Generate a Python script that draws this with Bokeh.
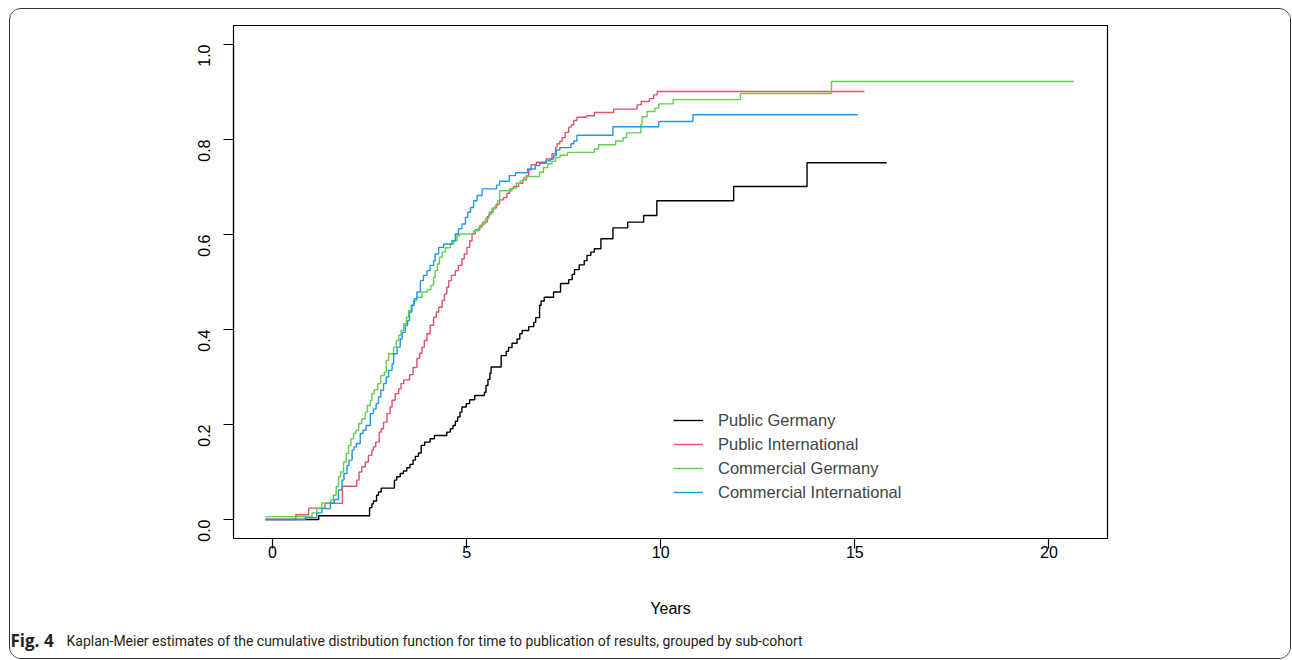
import math
from bokeh.plotting import figure
from bokeh.layouts import column
from bokeh.models import (Range1d, FixedTicker, Label, Legend, LegendItem,
                          PrintfTickFormatter)
from bokeh.embed import file_html
from bokeh.resources import INLINE

# ---------------- data ----------------
series_names = ["Public Germany", "Public International",
                "Commercial Germany", "Commercial International"]
series_colors = ["#000000", "#DF536B", "#61D04F", "#2297E6"]

x_ticks = [0, 5, 10, 15, 20]
y_ticks = [0.0, 0.2, 0.4, 0.6, 0.8, 1.0]

pg_time = [-0.18, 1.19, 2.50, 2.56, 2.60, 2.68, 2.73, 2.80, 3.14, 3.20, 3.29,
           3.37, 3.46, 3.54, 3.62, 3.68, 3.76, 3.83, 3.92, 4.06, 4.17, 4.49,
           4.58, 4.65, 4.71, 4.77, 4.83, 4.88, 4.99, 5.08, 5.21, 5.46, 5.50,
           5.55, 5.60, 5.63, 5.89, 6.02, 6.08, 6.17, 6.30, 6.37, 6.43, 6.60,
           6.73, 6.78, 6.88, 6.92, 7.00, 7.24, 7.42, 7.63, 7.72, 7.78, 7.90,
           8.03, 8.10, 8.20, 8.29, 8.46, 8.77, 9.15, 9.56, 9.90, 11.88, 13.77]
pg_prob = [0.000, 0.008, 0.025, 0.033, 0.039, 0.051, 0.058, 0.066, 0.083, 0.090,
           0.097, 0.102, 0.109, 0.116, 0.125, 0.133, 0.140, 0.156, 0.163, 0.170,
           0.177, 0.184, 0.191, 0.198, 0.207, 0.216, 0.226, 0.237, 0.244, 0.252,
           0.261, 0.268, 0.282, 0.295, 0.308, 0.321, 0.345, 0.354, 0.362, 0.371,
           0.380, 0.391, 0.398, 0.406, 0.415, 0.425, 0.451, 0.460, 0.468, 0.479,
           0.497, 0.505, 0.516, 0.526, 0.536, 0.545, 0.556, 0.563, 0.570, 0.591,
           0.614, 0.626, 0.640, 0.671, 0.701, 0.751]
pg_end = 15.82

pi_time = [-0.18, 0.60, 0.93, 1.35, 1.80, 2.17, 2.23, 2.30, 2.39, 2.47, 2.56,
           2.60, 2.66, 2.75, 2.80, 2.86, 2.95, 3.03, 3.08, 3.16, 3.25, 3.31,
           3.38, 3.53, 3.62, 3.72, 3.79, 3.85, 3.91, 3.98, 4.06, 4.15, 4.22,
           4.28, 4.37, 4.43, 4.49, 4.54, 4.61, 4.71, 4.79, 4.88, 4.94, 5.01,
           5.08, 5.14, 5.22, 5.34, 5.42, 5.53, 5.59, 5.68, 5.77, 5.85, 5.95,
           6.04, 6.11, 6.21, 6.34, 6.45, 6.54, 6.60, 6.66, 6.80, 7.05, 7.20,
           7.29, 7.33, 7.40, 7.46, 7.54, 7.63, 7.70, 7.76, 7.84, 8.09, 8.29,
           8.79, 9.39, 9.50, 9.71, 9.82, 9.91]
pi_prob = [0.000, 0.010, 0.024, 0.034, 0.070, 0.083, 0.100, 0.111, 0.121, 0.135,
           0.146, 0.153, 0.163, 0.184, 0.191, 0.205, 0.223, 0.237, 0.251, 0.265,
           0.275, 0.286, 0.294, 0.305, 0.320, 0.339, 0.350, 0.363, 0.377, 0.391,
           0.409, 0.426, 0.437, 0.447, 0.461, 0.475, 0.489, 0.503, 0.514, 0.524,
           0.535, 0.549, 0.559, 0.573, 0.587, 0.601, 0.610, 0.619, 0.626, 0.638,
           0.647, 0.656, 0.664, 0.673, 0.678, 0.687, 0.696, 0.701, 0.708, 0.715,
           0.724, 0.736, 0.747, 0.752, 0.759, 0.770, 0.783, 0.791, 0.796, 0.804,
           0.815, 0.826, 0.831, 0.840, 0.847, 0.850, 0.857, 0.864, 0.873, 0.880,
           0.886, 0.894, 0.901]
pi_end = 15.25

cg_time = [-0.18, 1.02, 1.14, 1.27, 1.50, 1.57, 1.64, 1.70, 1.75, 1.83, 1.90,
           1.96, 2.02, 2.09, 2.15, 2.22, 2.30, 2.39, 2.44, 2.52, 2.56, 2.62,
           2.71, 2.79, 2.88, 2.93, 2.99, 3.12, 3.19, 3.25, 3.31, 3.38, 3.45,
           3.51, 3.57, 3.63, 3.72, 3.85, 3.99, 4.08, 4.15, 4.19, 4.25, 4.30,
           4.37, 4.45, 4.58, 4.67, 4.75, 4.82, 5.18, 5.31, 5.40, 5.48, 5.57,
           5.65, 5.74, 5.80, 5.85, 6.17, 6.28, 6.38, 6.47, 6.56, 6.88, 6.98,
           7.09, 7.20, 7.29, 7.41, 7.60, 8.29, 8.40, 8.84, 9.03, 9.12, 9.49,
           9.52, 9.65, 9.85, 9.95, 10.32, 12.05, 14.40]
cg_prob = [0.006, 0.014, 0.023, 0.035, 0.041, 0.051, 0.069, 0.090, 0.100, 0.121,
           0.139, 0.156, 0.170, 0.181, 0.188, 0.202, 0.212, 0.226, 0.240, 0.251,
           0.265, 0.273, 0.286, 0.303, 0.310, 0.335, 0.349, 0.363, 0.377, 0.388,
           0.398, 0.412, 0.426, 0.440, 0.451, 0.461, 0.468, 0.479, 0.484, 0.493,
           0.510, 0.524, 0.538, 0.552, 0.563, 0.572, 0.580, 0.587, 0.598, 0.601,
           0.608, 0.615, 0.622, 0.633, 0.643, 0.654, 0.661, 0.671, 0.692, 0.698,
           0.708, 0.713, 0.720, 0.722, 0.731, 0.741, 0.749, 0.754, 0.762, 0.767,
           0.773, 0.780, 0.789, 0.797, 0.804, 0.814, 0.831, 0.848, 0.859, 0.866,
           0.875, 0.884, 0.897, 0.922]
cg_end = 20.64

ci_time = [-0.18, 0.84, 1.14, 1.27, 1.49, 1.59, 1.70, 1.79, 1.84, 1.92, 1.97,
           2.05, 2.10, 2.16, 2.26, 2.33, 2.41, 2.52, 2.60, 2.67, 2.73, 2.79,
           2.86, 2.93, 2.99, 3.08, 3.12, 3.21, 3.29, 3.34, 3.42, 3.48, 3.53,
           3.59, 3.65, 3.72, 3.81, 3.89, 3.98, 4.06, 4.15, 4.19, 4.28, 4.41,
           4.62, 4.71, 4.79, 4.88, 4.97, 5.03, 5.10, 5.18, 5.27, 5.40, 5.77,
           5.85, 6.10, 6.26, 6.57, 6.77, 6.88, 7.05, 7.16, 7.24, 7.31, 7.40,
           7.69, 7.76, 7.84, 8.77, 9.95, 10.83]
ci_prob = [0.000, 0.004, 0.014, 0.023, 0.035, 0.042, 0.062, 0.083, 0.097, 0.114,
           0.125, 0.146, 0.153, 0.160, 0.181, 0.188, 0.198, 0.223, 0.233, 0.244,
           0.258, 0.272, 0.286, 0.300, 0.314, 0.328, 0.349, 0.363, 0.380, 0.394,
           0.409, 0.419, 0.437, 0.451, 0.465, 0.479, 0.503, 0.514, 0.524, 0.535,
           0.545, 0.559, 0.573, 0.580, 0.587, 0.601, 0.612, 0.622, 0.636, 0.647,
           0.657, 0.671, 0.682, 0.696, 0.704, 0.712, 0.724, 0.730, 0.738, 0.745,
           0.750, 0.755, 0.759, 0.766, 0.778, 0.783, 0.791, 0.797, 0.809, 0.827,
           0.838, 0.852]
ci_end = 15.08

series = [(pg_time, pg_prob, pg_end), (pi_time, pi_prob, pi_end),
          (cg_time, cg_prob, cg_end), (ci_time, ci_prob, ci_end)]

x_label = "Years"
caption_bold = "Fig. 4"
caption_text = ("Kaplan-Meier estimates of the cumulative distribution function "
                "for time to publication of results, grouped by sub-cohort")

# ---------------- layout geometry (page pixels) ----------------
BOX_X, BOX_Y, BORDER = 9, 8, 1          # outer rounded panel
CX, CY = BOX_X + BORDER, BOX_Y + BORDER  # content origin
W = 1290 - CX                            # content width
FL, FT, FR, FB = 233, 25, 1107, 538      # plot frame on the page
MAIN_BOTTOM = 622                        # page y where the caption strip starts
CAP_H = 36

R_FONT = "Liberation Sans"
p = figure(width=W, height=MAIN_BOTTOM - CY, output_backend="svg",
           toolbar_location=None,
           x_range=Range1d(-1.005, 21.51), y_range=Range1d(-0.04, 1.04),
           min_border_left=FL - CX, min_border_right=W - (FR - CX),
           min_border_top=FT - CY, min_border_bottom=MAIN_BOTTOM - FB)
p.xgrid.visible = False
p.ygrid.visible = False
p.outline_line_color = "black"
p.outline_line_width = 1.2
p.outline_line_alpha = 1.0
p.background_fill_color = "white"
p.border_fill_color = "white"

for ax, ticks in ((p.xaxis, x_ticks), (p.yaxis, y_ticks)):
    ax.ticker = FixedTicker(ticks=ticks)
    ax.bounds = (ticks[0], ticks[-1])
    ax.major_tick_out = 10
    ax.major_tick_in = 0
    ax.minor_tick_line_color = None
    ax.axis_line_width = 1.2
    ax.major_tick_line_width = 1.2
    ax.major_label_text_font = R_FONT
    ax.major_label_text_font_size = "16px"
    ax.major_label_text_color = "black"

p.xaxis.major_label_standoff = -3
p.yaxis.formatter = PrintfTickFormatter(format="%.1f")
p.yaxis.major_label_orientation = math.pi / 2
p.yaxis.major_label_standoff = 20
p.xaxis.axis_label = x_label
p.xaxis.axis_label_text_font = R_FONT
p.xaxis.axis_label_text_font_size = "16px"
p.xaxis.axis_label_text_font_style = "normal"
p.xaxis.axis_label_text_color = "black"
p.xaxis.axis_label_standoff = 39

items = []
for (t, pr, end), name, col in zip(series, series_names, series_colors):
    xs = list(t) + [end]
    ys = list(pr) + [pr[-1]]
    r = p.step(xs, ys, mode="after", line_color=col, line_width=1.4)
    items.append(LegendItem(label=name, renderers=[r]))

legend = Legend(items=items, location=(440, 36), orientation="vertical",
                glyph_width=30, glyph_height=20, label_height=20,
                label_standoff=15, spacing=4, padding=0, margin=0,
                border_line_color=None, background_fill_alpha=0,
                label_text_font=R_FONT, label_text_font_size="16.5px")
p.add_layout(legend)

# ---------------- caption strip ----------------
cap = figure(width=W, height=CAP_H, output_backend="svg", toolbar_location=None,
             x_range=Range1d(0, W), y_range=Range1d(0, CAP_H),
             x_axis_location=None, y_axis_location=None, min_border=0)
for fig in (p, cap):
    try:
        fig.frame_align = False
    except Exception:
        pass
cap.xgrid.visible = False
cap.ygrid.visible = False
cap.outline_line_color = None
cap.background_fill_color = "white"
cap.border_fill_color = "white"
cap_mid = CAP_H - (640 - MAIN_BOTTOM)
cap.add_layout(Label(x=10 - CX, y=cap_mid, text=caption_bold,
                     text_font="Open Sans", text_font_style="bold",
                     text_font_size="17px", text_baseline="middle",
                     text_color="#231f20"))
cap.add_layout(Label(x=66 - CX, y=cap_mid, text=caption_text,
                     text_font="Roboto", text_font_size="14px",
                     text_baseline="middle", text_color="#231f20"))

root = column(p, cap, spacing=0,
              styles={"margin-left": f"{BOX_X}px", "margin-top": f"{BOX_Y}px",
                      "border": f"{BORDER}px solid #333333",
                      "border-radius": "12px", "overflow": "hidden",
                      "background-color": "white"})

open("out.html", "w").write(file_html(root, INLINE))
